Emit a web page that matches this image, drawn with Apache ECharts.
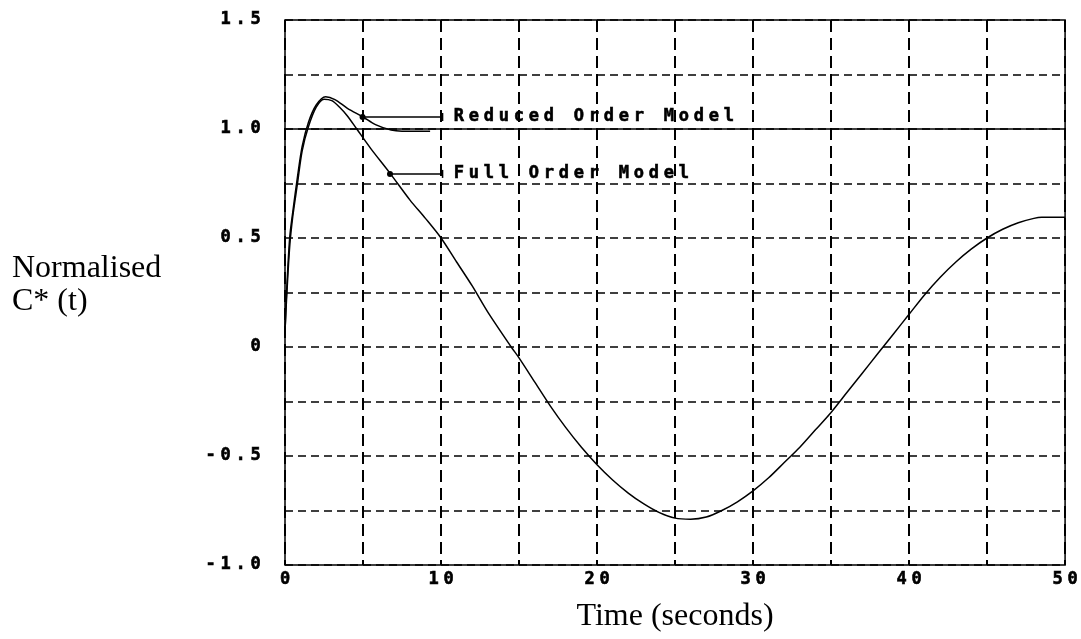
<!DOCTYPE html>
<html>
<head>
<meta charset="utf-8">
<script src="https://cdn.jsdelivr.net/npm/echarts@6/dist/echarts.min.js"></script>
<style>html,body{margin:0;padding:0;background:#fff}#c{width:1081px;height:639px}</style>
</head>
<body>
<div id="c"></div>
<script>
// ---- data ----
var fullTime  = [0, 0.1, 0.3, 0.5, 0.8, 1.1, 1.5, 2.0, 2.5, 3.0, 3.5, 4.0, 4.6, 5.5, 6.7, 8.0, 9.0, 10, 11, 12, 13, 14.5, 15, 16, 17, 18, 19, 20, 21, 22, 23, 24, 25, 26, 27, 28, 29, 30, 31, 32, 33, 34, 35, 36, 37, 38, 39, 40, 41, 42, 43, 44, 45, 46, 47, 48, 48.5, 50];
var fullValue = [0.07, 0.22, 0.46, 0.6, 0.75, 0.9, 1.01, 1.1, 1.137, 1.13, 1.1, 1.06, 1.0, 0.91, 0.8, 0.675, 0.59, 0.5, 0.39, 0.28, 0.16, 0.0, -0.05, -0.16, -0.27, -0.37, -0.46, -0.54, -0.61, -0.67, -0.72, -0.76, -0.785, -0.79, -0.78, -0.75, -0.71, -0.66, -0.6, -0.53, -0.46, -0.38, -0.3, -0.21, -0.12, -0.03, 0.06, 0.15, 0.24, 0.32, 0.39, 0.45, 0.5, 0.54, 0.57, 0.59, 0.595, 0.595];
var reducedTime  = [0, 0.1, 0.3, 0.5, 0.8, 1.1, 1.5, 2.0, 2.6, 3.2, 4.0, 5.0, 5.8, 6.8, 7.5, 9.3];
var reducedValue = [0.07, 0.25, 0.5, 0.62, 0.78, 0.92, 1.03, 1.11, 1.148, 1.135, 1.095, 1.055, 1.02, 0.995, 0.99, 0.99];
var setpointLevel = 1.0;
var xTickValues = [0, 10, 20, 30, 40, 50];
var xTickLabels = ['0', '10', '20', '30', '40', '50'];
var yTickValues = [-1, -0.5, 0, 0.5, 1, 1.5];
var yTickLabels = ['-1.0', '-0.5', '0', '0.5', '1.0', '1.5'];
var annotations = [
  {text: 'Reduced Order Model', from: [4.97, 1.055], to: [10.1, 1.055]},
  {text: 'Full Order Model',    from: [6.73, 0.794], to: [10.1, 0.794]}
];
var xTitle = 'Time (seconds)';
var yTitle = 'Normalised\nC* (t)';

// ---- helpers ----
function zip(a, b) { return a.map(function (v, i) { return [v, b[i]]; }); }
function spaced(s) {
  return s.split('').map(function (ch) { return '{c|' + ch + '}'; }).join('');
}
function lookup(vals, labels, v) {
  for (var i = 0; i < vals.length; i++) if (Math.abs(vals[i] - v) < 1e-6) return labels[i];
  return '';
}
var monoRich = {c: {width: 15, align: 'center', fontFamily: 'DejaVu Sans Mono', fontWeight: 'bold', fontSize: 17, color: '#000', textBorderColor: '#000', textBorderWidth: 0.6}};

var annSeries = annotations.map(function (a) {
  return {
    type: 'line', silent: true, animation: false,
    lineStyle: {color: '#000', width: 1.5},
    itemStyle: {color: '#000'},
    data: [
      {value: a.from, symbol: 'circle', symbolSize: 6},
      {value: a.to, symbol: 'rect', symbolSize: [1.5, 8],
       label: {show: true, position: 'right', distance: 8, formatter: spaced(a.text), rich: monoRich}}
    ]
  };
});

var chart = echarts.init(document.getElementById('c'), null, {renderer: 'canvas'});
chart.setOption({
  backgroundColor: '#fff',
  animation: false,
  grid: {left: 285, right: 8, top: 20, bottom: 74, show: true, borderColor: '#000', borderWidth: 1.5, backgroundColor: 'transparent'},
  xAxis: {
    type: 'value', min: 0, max: 50, interval: 5,
    name: xTitle, nameLocation: 'middle', nameGap: 36,
    nameTextStyle: {fontFamily: 'Liberation Serif', fontSize: 32, color: '#000'},
    axisLine: {show: false}, axisTick: {show: false},
    axisLabel: {margin: 6, formatter: function (v) { var s = lookup(xTickValues, xTickLabels, v); return s ? spaced(s) : ''; }, rich: monoRich},
    splitLine: {show: true, lineStyle: {color: '#000', width: 2, type: [12, 6]}}
  },
  yAxis: {
    type: 'value', min: -1, max: 1.5, interval: 0.25,
    axisLine: {show: false}, axisTick: {show: false},
    axisLabel: {margin: 22, formatter: function (v) { var s = lookup(yTickValues, yTickLabels, v); return s ? spaced(s) : ''; }, rich: monoRich},
    splitLine: {show: true, lineStyle: {color: '#000', width: 1.5, type: [8, 5]}}
  },
  graphic: [{
    type: 'text', left: 12, top: 252,
    style: {text: yTitle, font: '32px "Liberation Serif"', lineHeight: 33, fill: '#000'}
  }],
  series: [
    {type: 'line', name: 'Full Order Model', data: zip(fullTime, fullValue), showSymbol: false, smooth: 0.3,
     lineStyle: {color: '#000', width: 1.5},
     markLine: {silent: true, symbol: 'none', label: {show: false}, lineStyle: {type: 'solid', color: '#000', width: 1.5}, data: [{yAxis: setpointLevel}]}},
    {type: 'line', name: 'Reduced Order Model', data: zip(reducedTime, reducedValue), showSymbol: false, smooth: 0.3,
     lineStyle: {color: '#000', width: 1.5}}
  ].concat(annSeries)
});
</script>
</body>
</html>
